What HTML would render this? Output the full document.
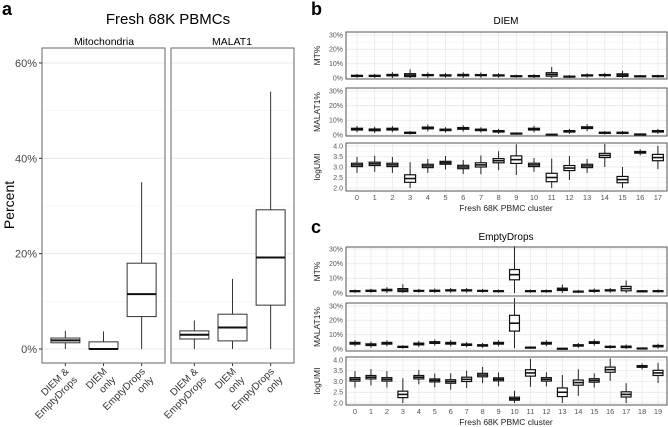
<!DOCTYPE html>
<html><head><meta charset="utf-8"><style>
body{margin:0;background:#fff}
svg{display:block;font-family:"Liberation Sans",sans-serif}
</style></head><body>
<svg id="fig" width="668" height="427" viewBox="0 0 668 427" xmlns="http://www.w3.org/2000/svg">
<text x="2" y="15" font-size="18" font-weight="bold">a</text>
<text x="311" y="15" font-size="18" font-weight="bold">b</text>
<text x="311" y="233" font-size="18" font-weight="bold">c</text>
<text x="168" y="24" font-size="15" text-anchor="middle">Fresh 68K PBMCs</text>
<text x="104" y="45" font-size="10.5" text-anchor="middle">Mitochondria</text>
<text x="232" y="45" font-size="10.5" text-anchor="middle">MALAT1</text>
<text transform="translate(14,205) rotate(-90)" font-size="14" text-anchor="middle">Percent</text>
<text x="506" y="24" font-size="10" text-anchor="middle">DIEM</text>
<text x="506" y="240" font-size="10" text-anchor="middle">EmptyDrops</text>
<text x="506" y="211" font-size="8.5" text-anchor="middle" fill="#222">Fresh 68K PBMC cluster</text>
<text x="506" y="425" font-size="8.5" text-anchor="middle" fill="#222">Fresh 68K PBMC cluster</text>
<g id="gA"></g><g id="gB"></g><g id="gC"></g>
</svg>
<script>
// Panel a data (percent)
const groupsA = ["DIEM &|EmptyDrops","DIEM|only","EmptyDrops|only"];
const mitoQ1 = [1.3, 0, 6.8], mitoMed = [1.8, 0, 11.5], mitoQ3 = [2.3, 1.5, 18], mitoLo = [0, 0, 0], mitoHi = [3.8, 3.7, 35];
const malQ1 = [2.1, 1.7, 9.2], malMed = [3, 4.5, 19.2], malQ3 = [3.8, 7.3, 29.2], malLo = [0, 0, 0], malHi = [6, 14.7, 54];
const ticksA = [0, 20, 40, 60];

// Panel b data
const bMTmed = [1.5,1.5,2,2,2,1.8,2,2,1.8,1.3,1.3,2.5,1,1.8,2,2,1.3,1.3];
const bMTiqr = [0.4,0.4,0.5,1,0.4,0.4,0.5,0.4,0.4,0.3,0.4,1.2,0.3,0.4,0.4,0.9,0.2,0.3];
const bMTwh = [1,1,1.5,3,1.5,1.2,1.5,1.5,1.2,0.8,1,4,0.8,1.2,1.2,2.2,0.5,0.8];
const bMALmed = [4,3.5,4,1.5,4.8,3.5,4.5,3.5,2.5,1,4,0.3,2.5,5,1.5,1.5,0.5,2.5];
const bMALiqr = [0.6,0.6,0.6,0.4,0.6,0.5,0.6,0.5,0.5,0.3,0.6,0.2,0.5,0.6,0.4,0.4,0.2,0.5];
const bMALwh = [1.5,1.5,1.5,0.8,1.8,1.3,1.6,1.3,1.2,0.5,1.6,0.3,1.2,1.8,0.8,0.8,0.3,1.2];
const bUMImed = [3.1,3.15,3.1,2.45,3.05,3.2,3.0,3.1,3.3,3.35,3.1,2.5,2.95,3.05,3.55,2.4,3.7,3.45];
const bUMIiqr = [0.08,0.08,0.08,0.18,0.08,0.07,0.08,0.1,0.1,0.18,0.08,0.2,0.12,0.08,0.1,0.15,0.04,0.15];
const bUMIwh = [0.3,0.3,0.3,0.6,0.25,0.25,0.25,0.35,0.35,0.55,0.25,0.7,0.45,0.25,0.45,0.45,0.1,0.4];

// Panel c data
const cMTmed = [1.3,1.5,2,2,1.5,1.5,1.8,1.8,1.5,1.3,12.5,1.3,1.3,2.5,1,1.5,1.8,3,1.3,1.3];
const cMTiqr = [0.3,0.4,0.5,1,0.3,0.4,0.4,0.4,0.3,0.3,3.5,0.3,0.3,0.8,0.3,0.4,0.4,1.5,0.2,0.3];
const cMTwh = [0.8,1,1.5,3,1,1.2,1.2,1.2,1,0.8,16,0.8,0.8,2.5,0.8,1.2,1.2,4,0.5,0.8];
const cMALmed = [4,3,4,1.5,3.5,4.5,4,3,2.5,4,18,1,4,0.3,2.5,4.5,1.5,1.5,0.5,2];
const cMALiqr = [0.6,0.6,0.6,0.4,0.6,0.6,0.6,0.5,0.5,0.6,5.5,0.3,0.6,0.2,0.5,0.6,0.4,0.5,0.2,0.5];
const cMALwh = [1.5,1.5,1.5,0.8,1.5,1.6,1.6,1.3,1.2,1.6,12,0.5,1.5,0.3,1.2,1.6,0.8,1.2,0.3,1.2];
const cUMImed = [3.1,3.2,3.1,2.4,3.2,3.05,3.0,3.1,3.3,3.1,2.2,3.4,3.1,2.5,2.95,3.05,3.55,2.4,3.7,3.4];
const cUMIiqr = [0.08,0.08,0.08,0.15,0.08,0.07,0.08,0.1,0.08,0.07,0.07,0.15,0.08,0.2,0.12,0.08,0.12,0.12,0.04,0.12];
const cUMIwh = [0.3,0.3,0.3,0.6,0.25,0.25,0.3,0.3,0.3,0.25,0.3,0.5,0.25,0.6,0.5,0.25,0.4,0.4,0.1,0.35];

const pctTicks = [0, 10, 20, 30], pctLabels = ["0%","10%","20%","30%"];
const umiTicks = [2.0, 2.5, 3.0, 3.5, 4.0], umiLabels = ["2.0","2.5","3.0","3.5","4.0"];

const NS = "http://www.w3.org/2000/svg";
function mk(parent, tag, attrs){const e=document.createElementNS(NS,tag);for(const k in attrs)e.setAttribute(k,attrs[k]);parent.appendChild(e);return e;}

// ---- Panel a ----
const gA = document.getElementById('gA');
const yA = v => 349 - v * (286 / 60);
function facetA(x0, x1, q1, med, q3, lo, hi, key){
  const g = mk(gA,'g',{});
  
  
  [10,30,50].forEach(t=>mk(g,'line',{x1:x0,x2:x1,y1:yA(t),y2:yA(t),stroke:'#f2f2f2','stroke-width':0.6}));
  ticksA.forEach(t=>mk(g,'line',{x1:x0,x2:x1,y1:yA(t),y2:yA(t),stroke:'#ebebeb','stroke-width':1}));
  const cx = i => x0 + (x1 - x0) * (0.19 + 0.31 * i);
  for(let i=0;i<q1.length;i++){
    const bg = mk(g,'g',{});
    
    
    const c = cx(i), w = 29;
    mk(bg,'line',{x1:c,x2:c,y1:yA(hi[i]),y2:yA(q3[i]),stroke:'#333','stroke-width':1});
    mk(bg,'line',{x1:c,x2:c,y1:yA(q1[i]),y2:yA(lo[i]),stroke:'#333','stroke-width':1});
    mk(bg,'rect',{x:c-w/2,y:yA(q3[i]),width:w,height:Math.max(0.5,yA(q1[i])-yA(q3[i])),fill:'#fff',stroke:'#333','stroke-width':1});
    mk(bg,'line',{x1:c-w/2,x2:c+w/2,y1:yA(med[i]),y2:yA(med[i]),stroke:'#111','stroke-width':2});
    mk(g,'line',{x1:c,x2:c,y1:363,y2:366,stroke:'#333'});
    const parts = groupsA[i].split('|');
    const t = mk(g,'text',{transform:`translate(${c+4},372) rotate(-45)`,'font-size':10,'text-anchor':'end',fill:'#333'});
    
    
    parts.forEach((p,j)=>{const s=mk(t,'tspan',{x:0,dy:j?12:0});s.textContent=p;});
  }
  const r = mk(g,'rect',{x:x0,y:48,width:x1-x0,height:315,fill:'none',stroke:'#7f7f7f','stroke-width':1.2});
  
  
}
facetA(42,165,mitoQ1,mitoMed,mitoQ3,mitoLo,mitoHi,'mito');
facetA(171,294,malQ1,malMed,malQ3,malLo,malHi,'malat1');
ticksA.forEach(t=>{
  const tx = mk(gA,'text',{x:37,y:yA(t)+4,'font-size':11,'text-anchor':'end',fill:'#444'});
  
  
  tx.textContent = t + '%';
  mk(gA,'line',{x1:39,x2:42,y1:yA(t),y2:yA(t),stroke:'#333'});
});

// ---- strip panels ----
function strip(parent, key, x0, x1, top, bot, ytop, ybot, vmin, vmax, xFirst, xStep, med, iqr, wh, ticks, labels, title){
  const g = mk(parent,'g',{});
  
  
  const y = v => ybot - (v - vmin) * (ybot - ytop) / (vmax - vmin);
  const n = med.length;
  for(let i=0;i<ticks.length;i++){
    if(i<ticks.length-1){const m=(ticks[i]+ticks[i+1])/2;mk(g,'line',{x1:x0,x2:x1,y1:y(m),y2:y(m),stroke:'#f2f2f2','stroke-width':0.5});}
    mk(g,'line',{x1:x0,x2:x1,y1:y(ticks[i]),y2:y(ticks[i]),stroke:'#e8e8e8','stroke-width':0.8});
    const tx = mk(g,'text',{x:x0-3,y:y(ticks[i])+2.4,'font-size':7,'text-anchor':'end',fill:'#555'});
    
    
    tx.textContent = labels[i];
  }
  for(let i=0;i<n;i++){
    const c = xFirst + i * xStep;
    mk(g,'line',{x1:c,x2:c,y1:top,y2:bot,stroke:'#e8e8e8','stroke-width':0.8});
  }
  for(let i=0;i<n;i++){
    const c = xFirst + i * xStep, w = xStep*0.62;
    const q1 = med[i]-iqr[i], q3 = med[i]+iqr[i];
    const lo = Math.max(vmin, q1 - wh[i]), hi = q3 + wh[i];
    const bg = mk(g,'g',{});
    
    
    mk(bg,'line',{x1:c,x2:c,y1:y(hi),y2:y(lo),stroke:'#222','stroke-width':1});
    mk(bg,'rect',{x:c-w/2,y:y(q3),width:w,height:Math.max(1,y(q1)-y(q3)),fill:'#fff',stroke:'#111','stroke-width':1.2});
    mk(bg,'line',{x1:c-w/2,x2:c+w/2,y1:y(med[i]),y2:y(med[i]),stroke:'#111','stroke-width':1.6});
  }
  const r = mk(g,'rect',{x:x0,y:top,width:x1-x0,height:bot-top,fill:'none',stroke:'#555','stroke-width':1});
  
  
  const tt = mk(g,'text',{transform:`translate(${x0-26},${(top+bot)/2}) rotate(-90)`,'font-size':8.5,'text-anchor':'middle',fill:'#222'});
  
  
  tt.textContent = title;
  return g;
}
function clusterTicks(parent, key, xFirst, xStep, n, yy){
  for(let i=0;i<n;i++){
    const t = mk(parent,'text',{x:xFirst+i*xStep,y:yy,'font-size':7.5,'text-anchor':'middle',fill:'#555'});
    
    
    t.textContent = i;
  }
}
const gB = document.getElementById('gB');
strip(gB,'b-mt',346,667,32,79,35,78,0,30,357,17.7,bMTmed,bMTiqr,bMTwh,pctTicks,pctLabels,'MT%');
strip(gB,'b-malat1',346,667,88,136,91,135,0,30,357,17.7,bMALmed,bMALiqr,bMALwh,pctTicks,pctLabels,'MALAT1%');
strip(gB,'b-logumi',346,667,143,191,146,188,2,4,357,17.7,bUMImed,bUMIiqr,bUMIwh,umiTicks,umiLabels,'logUMI');
clusterTicks(gB,'b',357,17.7,bUMImed.length,200);
const gC = document.getElementById('gC');
strip(gC,'c-mt',346,667,247,296,249,293,0,30,355,15.95,cMTmed,cMTiqr,cMTwh,pctTicks,pctLabels,'MT%');
strip(gC,'c-malat1',346,667,303,351,306,349,0,30,355,15.95,cMALmed,cMALiqr,cMALwh,pctTicks,pctLabels,'MALAT1%');
strip(gC,'c-logumi',346,667,357,405,360,403,2,4,355,15.95,cUMImed,cUMIiqr,cUMIwh,umiTicks,umiLabels,'logUMI');
clusterTicks(gC,'c',355,15.95,cUMImed.length,414);
</script>
</body></html>
